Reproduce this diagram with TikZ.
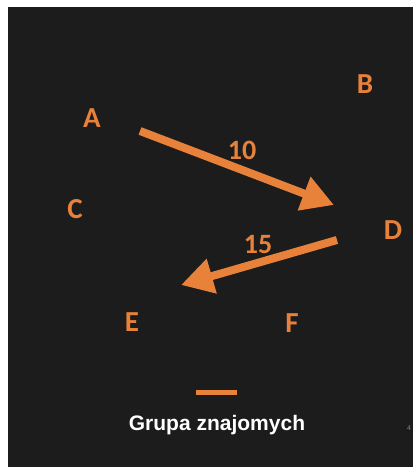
\documentclass[tikz,border=0pt]{standalone}
\usepackage{fontspec}
\setmainfont{Carlito}
\newfontfamily\arialfont{Liberation Sans}
\usetikzlibrary{arrows.meta}
\definecolor{bg}{HTML}{1C1C1C}
\definecolor{orng}{HTML}{E8813A}
\tikzset{
  lbl/.style={text=orng, font=\fontsize{29}{31}\selectfont\bfseries, inner sep=0pt},
  wlbl/.style={text=orng, font=\fontsize{28}{30}\selectfont\bfseries, inner sep=0pt},
  bigarrow/.style={draw=orng, line width=8pt, -{Triangle[length=32pt,width=34pt]}, shorten >=0pt},
}
\begin{document}
\begin{tikzpicture}[x=1pt,y=1pt]
\useasboundingbox (0,0) rectangle (413,467);
\fill[white] (0,0) rectangle (413,467);
\fill[bg] (8,0) rectangle (413,460);
\node[lbl] (A) at (92,349) {A};
\node[lbl] (B) at (365,383) {B};
\node[lbl] (C) at (75,258) {C};
\node[lbl] (D) at (393,237) {D};
\node[lbl] (E) at (132,145) {E};
\node[lbl] (F) at (292,144) {F};
\coordinate (a1s) at (140,336);
\coordinate (a1e) at (334,262);
\coordinate (a2s) at (337,227);
\coordinate (a2e) at (181,182);
\draw[bigarrow] (a1s) -- (a1e);
\draw[bigarrow] (a2s) -- (a2e);
\node[wlbl] (l10) at (242,317) {10};
\node[wlbl] (l15) at (258,222) {15};
\coordinate (b1) at (196,74);
\coordinate (b2) at (237,74);
\draw[orng, line width=5pt] (b1) -- (b2);
\node[text=white, font=\arialfont\fontsize{21}{24}\selectfont\bfseries, inner sep=0pt] (title) at (217,42) {Grupa znajomych};
\node[text=gray, font=\arialfont\fontsize{7}{8}\selectfont, inner sep=0pt, anchor=west] (pg) at (407,39) {4};
\end{tikzpicture}
\end{document}
